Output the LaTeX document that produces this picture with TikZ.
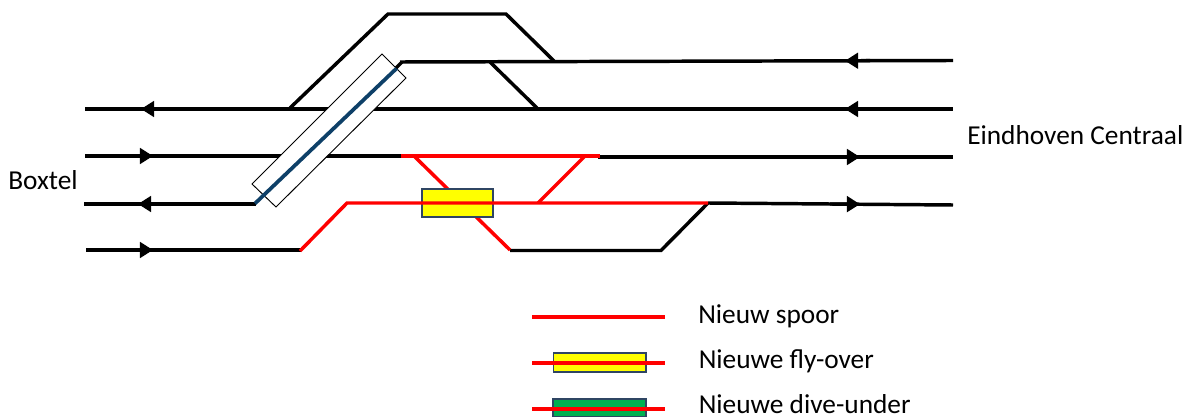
\documentclass[tikz,border=0pt]{standalone}
\usepackage{fontspec}
\setmainfont{Carlito}
\usetikzlibrary{arrows.meta}
\definecolor{spoorrood}{RGB}{255,0,0}
\definecolor{spoorblauw}{RGB}{14,64,104}
\definecolor{kader}{RGB}{47,69,99}
\definecolor{flyover}{RGB}{255,255,0}
\definecolor{diveunder}{RGB}{0,176,80}
\tikzset{
    spoor/.style={line width=2.6pt, black},
    nieuw/.style={line width=2.6pt, spoorrood},
    pijl/.style={-{Triangle[length=9.8pt,width=11.6pt]}},
    bak/.style={line width=0.9pt, draw=kader},
    label/.style={inner sep=0pt, anchor=base west, font=\fontsize{20.5}{20.5}\selectfont},
}

\begin{document}
\begin{tikzpicture}[x=0.75pt, y=-0.75pt]

    \useasboundingbox (0,0) rectangle (1193,417);

    % sporen links en rechts
    \draw[spoor] (85,109) -- (953,109);
    \draw[spoor, pijl] (160,109) -- (141,109);
    \draw[spoor, pijl] (870,109) -- (845,109);
    \draw[spoor] (400,62) -- (953,60.5);
    \draw[spoor, pijl] (870,60.7) -- (845,60.8);
    \draw[spoor] (85,156) -- (404,156);
    \draw[spoor, pijl] (125,156) -- (153,156);
    \draw[spoor] (598,157) -- (953,157);
    \draw[spoor, pijl] (830,157) -- (860,157);
    \draw[spoor] (84,204) -- (256,204);
    \draw[spoor, pijl] (160,204) -- (138,204);
    \draw[spoor] (708,203) -- (953,205);
    \draw[spoor, pijl] (830,204) -- (860,204.2);
    \draw[spoor] (86,250) -- (301,250);
    \draw[spoor, pijl] (125,250) -- (153,250);
    \draw[spoor] (510,250.5) -- (661,250.5) -- (708,203);

    % bogen boven
    \draw[spoor] (290,108) -- (388,14) -- (506,14) -- (554,61);
    \draw[spoor] (490,62) -- (537,108);

    % fly-over schuin
    \draw[black, line width=0.7pt, fill=white] (382,54) -- (406,78) -- (276,207) -- (252,184) -- cycle;
    \draw[line width=2.8pt, spoorblauw] (255,203.5) -- (397,68);
    \draw[spoor] (396,68) -- (402,62);

    % nieuw spoor
    \draw[nieuw] (414,156) -- (510,250);
    \draw[bak, fill=flyover] (422,189) rectangle (493,217);
    \draw[nieuw] (300,251) -- (347,203) -- (708,203);
    \draw[nieuw] (401,156) -- (600,156);
    \draw[nieuw] (538,203) -- (585,156);

    % legenda
    \draw[nieuw] (532,317) -- (665,317);
    \draw[bak, fill=flyover] (553.5,353) rectangle (646,372);
    \draw[nieuw] (532,363) -- (665,363);
    \draw[bak, fill=diveunder] (553,399) rectangle (646,417);
    \draw[nieuw] (532,409) -- (665,409);

    \node[label] (boxtel) at (8,189.5) {Boxtel};
    \node[label] (eindhoven) at (967,144.5) {Eindhoven Centraal};
    \node[label] (spoorlabel) at (698,323.5) {Nieuw spoor};
    \node[label] (flylabel) at (698.5,368.5) {Nieuwe fly-over};
    \node[label] (divelabel) at (698.5,413.5) {Nieuwe dive-under};

\end{tikzpicture}
\end{document}
